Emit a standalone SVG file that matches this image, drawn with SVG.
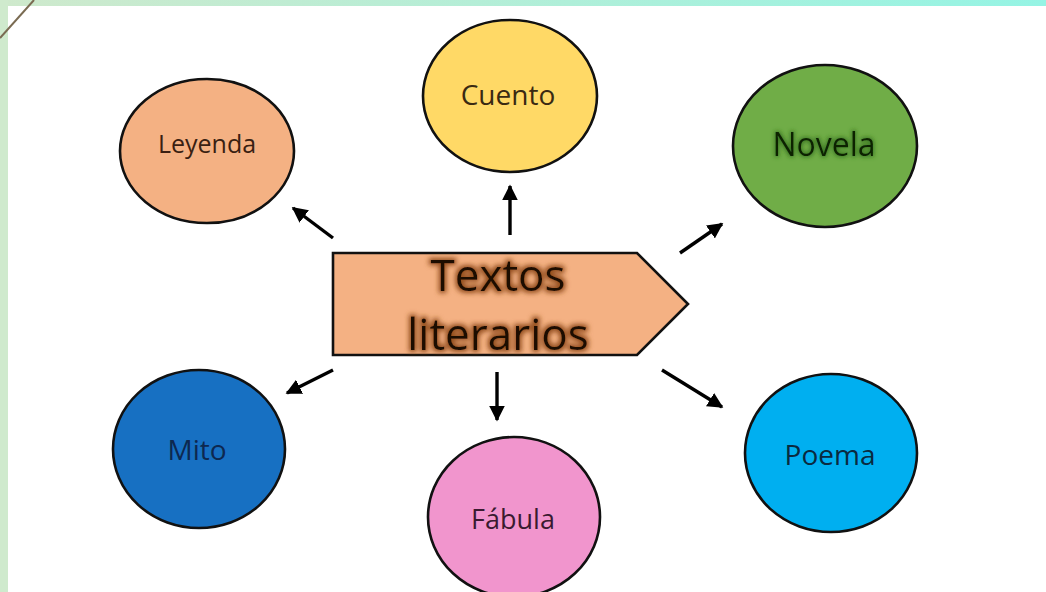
<svg xmlns="http://www.w3.org/2000/svg" width="1046" height="592" viewBox="0 0 1046 592">
<defs>
<linearGradient id="topbar" x1="0" y1="0" x2="1" y2="0">
<stop offset="0" stop-color="#cfe9cc"/>
<stop offset="1" stop-color="#95f4e4"/>
</linearGradient>
<marker id="ah" viewBox="0 0 10 10" refX="9" refY="5" markerWidth="4.6" markerHeight="4.6" markerUnits="strokeWidth" orient="auto">
<path d="M0,0 L10,5 L0,10 z" fill="#000"/>
</marker>
<filter id="glowBrown" x="-20%" y="-30%" width="140%" height="160%">
<feMorphology in="SourceAlpha" operator="dilate" radius="1.8" result="d"/>
<feGaussianBlur in="d" stdDeviation="2.8" result="b"/>
<feFlood flood-color="#8f4a1a" flood-opacity="0.95"/>
<feComposite in2="b" operator="in" result="g"/>
<feMerge><feMergeNode in="g"/><feMergeNode in="SourceGraphic"/></feMerge>
</filter>
<filter id="glowGreen" x="-20%" y="-30%" width="140%" height="160%">
<feMorphology in="SourceAlpha" operator="dilate" radius="1" result="d"/>
<feGaussianBlur in="d" stdDeviation="2" result="b"/>
<feFlood flood-color="#2f6a1a" flood-opacity="0.8"/>
<feComposite in2="b" operator="in" result="g"/>
<feMerge><feMergeNode in="g"/><feMergeNode in="SourceGraphic"/></feMerge>
</filter>
</defs>
<style>
.node ellipse{stroke:#111;stroke-width:2.6}
.lbl{font-family:"Open Sans","Noto Sans","Liberation Sans",sans-serif;text-anchor:middle;font-weight:500}
.conn line{stroke:#000;stroke-width:3.4;marker-end:url(#ah)}
</style>
<rect width="1046" height="592" fill="#ffffff"/>
<rect x="0" y="0" width="1046" height="6" fill="url(#topbar)"/>
<rect x="0" y="0" width="8" height="592" fill="#cfeacd"/>
<line x1="0" y1="38" x2="34" y2="0" stroke="#7a6b52" stroke-width="2"/>

<g id="n-leyenda" class="node">
<ellipse cx="207" cy="151" rx="87" ry="72" fill="#f4b183"/>
<text class="lbl" x="207" y="153" font-size="25" fill="#3a1f12">Leyenda</text>
</g>
<g id="n-cuento" class="node">
<ellipse cx="510" cy="96" rx="87" ry="76" fill="#ffd966"/>
<text class="lbl" x="508" y="105" font-size="28" fill="#3a2a12">Cuento</text>
</g>
<g id="n-novela" class="node">
<ellipse cx="825" cy="146" rx="92" ry="81" fill="#70ad47"/>
<text class="lbl" x="824" y="156" font-size="32" fill="#0e2406" filter="url(#glowGreen)">Novela</text>
</g>
<g id="n-mito" class="node">
<ellipse cx="199" cy="449" rx="86" ry="79" fill="#1770c2"/>
<text class="lbl" x="197" y="460" font-size="28" fill="#0d2850">Mito</text>
</g>
<g id="n-fabula" class="node">
<ellipse cx="514" cy="517" rx="86" ry="80" fill="#f195cd"/>
<text class="lbl" x="513" y="529" font-size="27" fill="#3a1a30">Fábula</text>
</g>
<g id="n-poema" class="node">
<ellipse cx="831" cy="453" rx="86" ry="79" fill="#00aff0"/>
<text class="lbl" x="830" y="465" font-size="28" fill="#0a2a40">Poema</text>
</g>
<g id="n-textos" class="node">
<polygon points="333,253 637,253 688,304 637,355 333,355" fill="#f4b183" stroke="#111" stroke-width="2.6"/>
<text class="lbl" x="498" y="291" font-size="44" fill="#1f0f06" filter="url(#glowBrown)">Textos</text>
<text class="lbl" x="498" y="350" font-size="44" fill="#1f0f06" filter="url(#glowBrown)">literarios</text>
</g>

<g id="connectors" class="conn">
<line x1="333" y1="238" x2="293" y2="208"/>
<line x1="510" y1="235" x2="510" y2="186"/>
<line x1="680" y1="253" x2="722" y2="224"/>
<line x1="333" y1="370" x2="287" y2="393"/>
<line x1="497" y1="372" x2="497" y2="420"/>
<line x1="662" y1="370" x2="722" y2="407"/>
</g>
</svg>
